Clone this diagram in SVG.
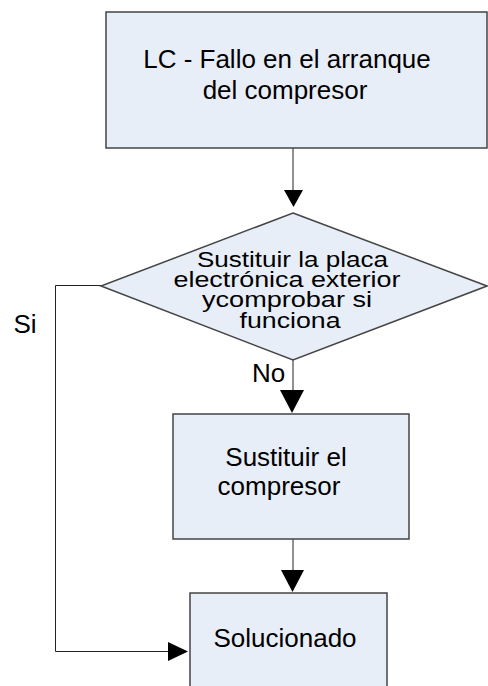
<svg xmlns="http://www.w3.org/2000/svg" width="488" height="686" viewBox="0 0 488 686">
<style>
.box{fill:#E8EEF8;stroke:#444;stroke-width:1.5}
.ln{fill:none;stroke:#222;stroke-width:1}
.ah{fill:#000;stroke:none}
.t{font-family:"Liberation Sans",Arial,sans-serif;fill:#000;text-anchor:middle}
.big{font-size:26px}
.dt{font-size:22px}
</style>
<rect width="488" height="686" fill="#fff"/>
<g id="connectors">
<line class="ln" x1="293" y1="148" x2="293" y2="192"/>
<polygon class="ah" points="284,190 303,190 293.5,207"/>
<line class="ln" x1="293" y1="360" x2="293" y2="392"/>
<polygon class="ah" points="280,390 304,390 292,413"/>
<line class="ln" x1="293" y1="539" x2="293" y2="572"/>
<polygon class="ah" points="281,570 304,570 292.5,592"/>
<polyline class="ln" points="101,285.5 55.5,285.5 55.5,651.5 170,651.5"/>
<polygon class="ah" points="168,642 168,661 188,651.5"/>
</g>
<g id="n-start">
<rect class="box" x="106" y="12" width="381" height="136"/>
<text class="t big" x="287" y="68">LC - Fallo en el arranque</text>
<text class="t big" x="285" y="99">del compresor</text>
</g>
<g id="n-decision">
<polygon class="box" points="293,213 487,286 293,360 101,286"/>
<text class="t dt" x="292.5" y="267" textLength="191" lengthAdjust="spacingAndGlyphs">Sustituir la placa</text>
<text class="t dt" x="287" y="287" textLength="227" lengthAdjust="spacingAndGlyphs">electrónica exterior</text>
<text class="t dt" x="287" y="307" textLength="170" lengthAdjust="spacingAndGlyphs">ycomprobar si</text>
<text class="t dt" x="290" y="328" textLength="101" lengthAdjust="spacingAndGlyphs">funciona</text>
</g>
<g id="n-replace">
<rect class="box" x="173" y="414" width="236" height="125"/>
<text class="t big" x="286" y="466">Sustituir el</text>
<text class="t big" x="279" y="495">compresor</text>
</g>
<g id="n-solved">
<rect class="box" x="190" y="593" width="197" height="100"/>
<text class="t big" x="285" y="647">Solucionado</text>
</g>
<g id="labels">
<text class="t big" x="25" y="333">Si</text>
<text class="t big" x="268.5" y="382">No</text>
</g>
</svg>
